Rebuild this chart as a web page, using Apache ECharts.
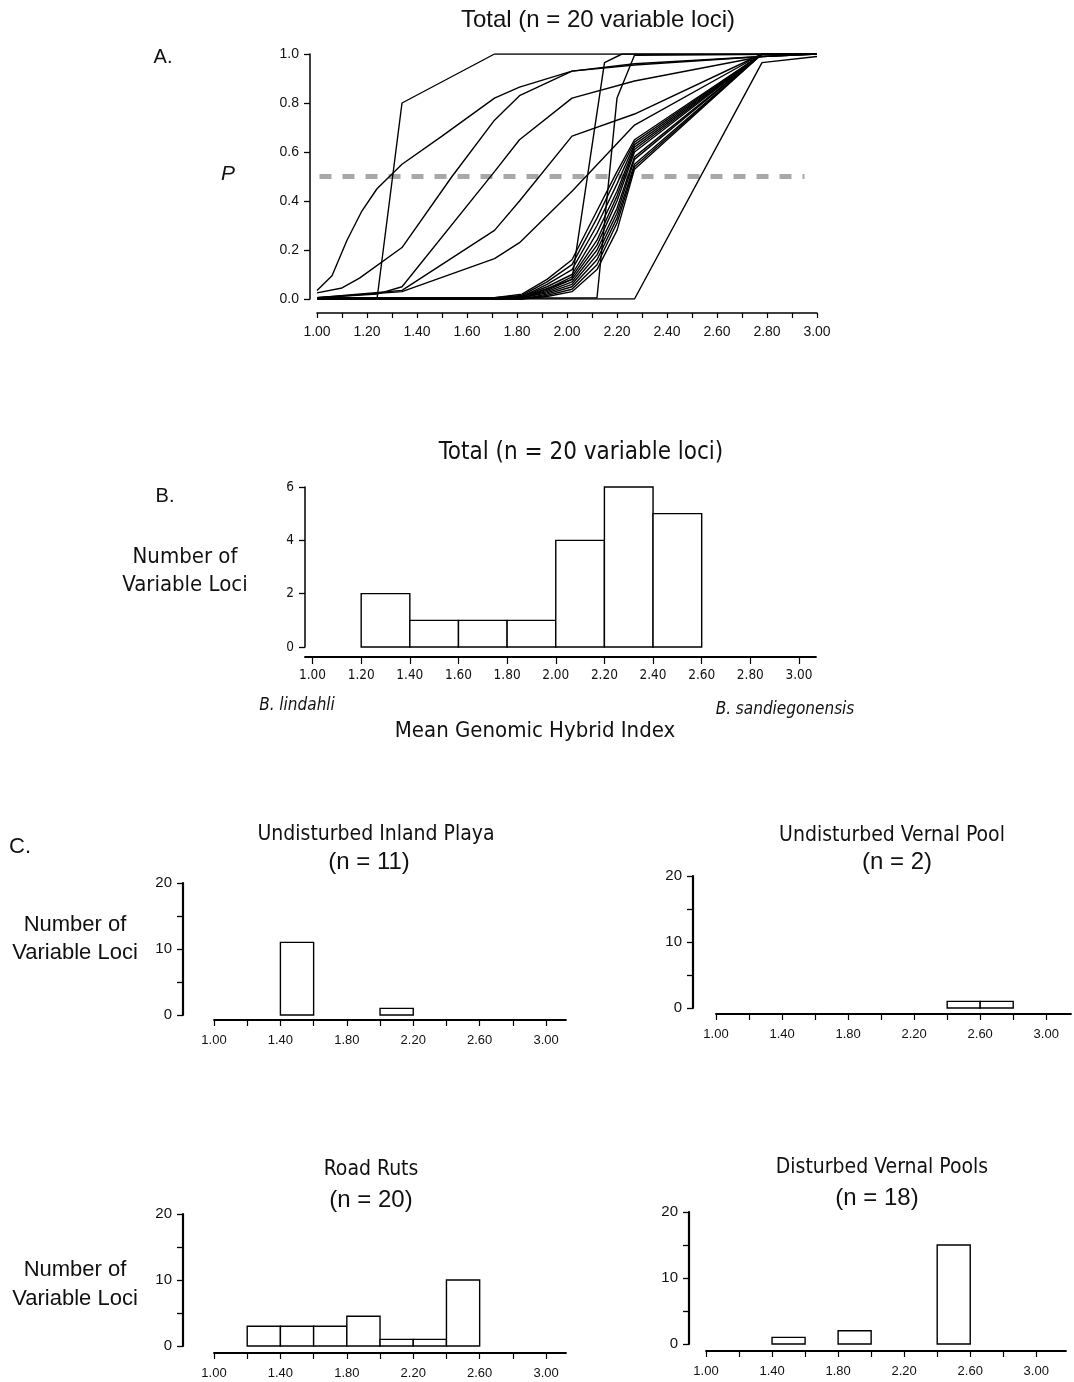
<!DOCTYPE html>
<html>
<head>
<meta charset="utf-8">
<title>Genomic clines and hybrid index histograms</title>
<script src="https://cdn.jsdelivr.net/npm/echarts@6/dist/echarts.min.js"></script>
<style>
  html, body { margin: 0; padding: 0; background: #fff; }
  #chart { width: 1074px; height: 1382px; }
</style>
</head>
<body>
<div id="chart"></div>
<script>
// ---- A. cline curves, points are [mean hybrid index, P] ----
const clineEarly = [[1.00, 0.035], [1.06, 0.095], [1.12, 0.24], [1.18, 0.36], [1.24, 0.45], [1.34, 0.55],
  [1.50, 0.665], [1.71, 0.82], [1.81, 0.865], [2.02, 0.93], [2.27, 0.96], [2.78, 0.99], [3.00, 1.00]];
const clineStep = [[1.00, 0.0], [1.24, 0.0], [1.34, 0.80], [1.71, 1.00], [3.00, 1.00]];
const clineMid1 = [[1.00, 0.025], [1.10, 0.045], [1.17, 0.085], [1.34, 0.21], [1.54, 0.50], [1.71, 0.73],
  [1.81, 0.83], [2.02, 0.93], [2.27, 0.955], [2.78, 0.99], [3.00, 1.00]];
const clineMid2 = [[1.00, 0.005], [1.24, 0.02], [1.34, 0.05], [1.71, 0.52], [1.81, 0.65], [2.02, 0.82],
  [2.27, 0.89], [2.78, 0.99], [3.00, 1.00]];
const clineMid3 = [[1.00, 0.005], [1.34, 0.035], [1.71, 0.28], [1.81, 0.40], [2.02, 0.665], [2.27, 0.755],
  [2.78, 1.00], [3.00, 1.00]];
const clineMid4 = [[1.00, 0.005], [1.34, 0.03], [1.71, 0.165], [1.81, 0.23], [2.02, 0.44], [2.27, 0.71],
  [2.78, 1.00], [3.00, 1.00]];
const clineSteep1 = [[1.00, 0.0], [1.82, 0.005], [2.02, 0.08], [2.15, 0.965], [2.22, 1.00], [3.00, 1.00]];
const clineSteep2 = [[1.00, 0.0], [2.12, 0.005], [2.20, 0.82], [2.27, 0.995], [3.00, 1.00]];
const clineLate = [[1.00, 0.0], [2.27, 0.0], [2.78, 0.965], [3.00, 0.99]];

// the tight bundle of late clines share the same x positions
const bundleX = [1.00, 1.71, 1.82, 1.92, 2.02, 2.12, 2.20, 2.27, 2.78, 3.00];
const bundleP = [
  [0.005, 0.005, 0.02, 0.08, 0.16, 0.36, 0.52, 0.65, 1.00, 1.00],
  [0.005, 0.005, 0.015, 0.07, 0.14, 0.33, 0.50, 0.64, 1.00, 1.00],
  [0.0, 0.0, 0.01, 0.06, 0.12, 0.30, 0.47, 0.63, 1.00, 1.00],
  [0.0, 0.0, 0.01, 0.05, 0.10, 0.27, 0.44, 0.62, 1.00, 1.00],
  [0.0, 0.0, 0.01, 0.04, 0.09, 0.24, 0.42, 0.61, 1.00, 1.00],
  [0.0, 0.0, 0.005, 0.035, 0.08, 0.22, 0.40, 0.60, 1.00, 1.00],
  [0.0, 0.0, 0.005, 0.03, 0.07, 0.20, 0.37, 0.58, 1.00, 1.00],
  [0.0, 0.0, 0.005, 0.025, 0.06, 0.18, 0.35, 0.57, 1.00, 1.00],
  [0.0, 0.0, 0.0, 0.02, 0.05, 0.16, 0.33, 0.55, 1.00, 1.00],
  [0.0, 0.0, 0.0, 0.015, 0.04, 0.14, 0.31, 0.54, 1.00, 1.00],
  [0.0, 0.0, 0.0, 0.01, 0.03, 0.12, 0.28, 0.53, 1.00, 1.00]
];
const halfLine = [[1.01, 0.5], [2.95, 0.5]];   // P = 0.5 reference

// ---- B / C. histograms (bin start, count), bins are 0.2 wide ----
const binWidth = 0.2;
const totalBins = [1.2, 1.4, 1.6, 1.8, 2.0, 2.2, 2.4];
const totalCounts = [2, 1, 1, 1, 4, 6, 5];
const playaBins = [1.4, 2.0];
const playaCounts = [11, 1];
const vernalBins = [2.4, 2.6];
const vernalCounts = [1, 1];
const rutsBins = [1.2, 1.4, 1.6, 1.8, 2.0, 2.2, 2.4];
const rutsCounts = [3, 3, 3, 4.5, 1, 1, 10];
const disturbedBins = [1.4, 1.8, 2.4];
const disturbedCounts = [1, 2, 15];

// ---- tick values ----
const ticksA = [1.0, 1.1, 1.2, 1.3, 1.4, 1.5, 1.6, 1.7, 1.8, 1.9, 2.0, 2.1, 2.2, 2.3, 2.4, 2.5, 2.6, 2.7, 2.8, 2.9, 3.0];
const labelsA = [1.0, 1.2, 1.4, 1.6, 1.8, 2.0, 2.2, 2.4, 2.6, 2.8, 3.0];
const pTicks = [0, 0.2, 0.4, 0.6, 0.8, 1.0];
const ticksB = [1.0, 1.2, 1.4, 1.6, 1.8, 2.0, 2.2, 2.4, 2.6, 2.8, 3.0];
const countTicksB = [0, 2, 4, 6];
const labelsC = [1.0, 1.4, 1.8, 2.2, 2.6, 3.0];
const countTicksC = [0, 5, 10, 15, 20];
const countLabelsC = [0, 10, 20];

const sans = "'Liberation Sans', Arial, sans-serif";
const narrow = "'Liberation Sans Narrow', 'DejaVu Sans Condensed', 'Liberation Sans', sans-serif";

const chart = echarts.init(document.getElementById('chart'));

function xAxisCfg(gi, min, max, offset, ticks, labels, family, size, margin, width, tickLen) {
  return {
    gridIndex: gi, type: 'value', min: min, max: max, offset: offset,
    axisLine: { show: true, onZero: false, lineStyle: { color: '#000', width: width } },
    axisTick: { show: true, length: tickLen, customValues: ticks, lineStyle: { color: '#000', width: 1.2 } },
    axisLabel: { show: true, customValues: labels, formatter: v => v.toFixed(2), margin: margin,
      color: '#111', fontFamily: family, fontSize: size },
    splitLine: { show: false }
  };
}
function yAxisCfg(gi, max, offset, ticks, labels, digits, family, size, width) {
  return {
    gridIndex: gi, type: 'value', min: 0, max: max, offset: offset,
    axisLine: { show: true, onZero: false, lineStyle: { color: '#000', width: width } },
    axisTick: { show: true, length: 6, customValues: ticks, lineStyle: { color: '#000', width: 1.3 } },
    axisLabel: { show: true, customValues: labels, formatter: v => v.toFixed(digits), margin: 11,
      color: '#111', fontFamily: family, fontSize: size },
    splitLine: { show: false }
  };
}

function histItem(params, api) {
  const start = api.value(0);
  const count = api.value(1);
  const tl = api.coord([start, count]);
  const br = api.coord([start + binWidth, 0]);
  return {
    type: 'rect',
    shape: { x: tl[0], y: tl[1], width: br[0] - tl[0], height: br[1] - tl[1] },
    style: { fill: '#fff', stroke: '#000', lineWidth: 1.4 }
  };
}
function histSeries(gi, bins, counts) {
  return {
    type: 'custom', xAxisIndex: gi, yAxisIndex: gi, renderItem: histItem, clip: false,
    encode: { x: 0, y: 1 }, data: bins.map((b, i) => [b, counts[i]])
  };
}

const clines = [clineEarly, clineStep, clineMid1, clineMid2, clineMid3, clineMid4,
  clineSteep1, clineSteep2, clineLate].concat(bundleP.map(row => row.map((p, i) => [bundleX[i], p])));

const series = [{
  type: 'line', xAxisIndex: 0, yAxisIndex: 0, data: halfLine, symbol: 'none', z: 1,
  lineStyle: { color: '#a8a8a8', width: 5, type: [12, 11] }
}].concat(clines.map(c => ({
  type: 'line', xAxisIndex: 0, yAxisIndex: 0, data: c, symbol: 'none', z: 2,
  lineStyle: { color: '#000', width: 1.4 }
}))).concat([
  histSeries(1, totalBins, totalCounts),
  histSeries(2, playaBins, playaCounts),
  histSeries(3, vernalBins, vernalCounts),
  histSeries(4, rutsBins, rutsCounts),
  histSeries(5, disturbedBins, disturbedCounts)
]);

function label(text, x, y, font) {
  return { type: 'text', x: x, y: y, style: { text: text, font: font, fill: '#111',
    textAlign: 'center', textVerticalAlign: 'middle' } };
}

const texts = [
  label('Total (n = 20 variable loci)', 598, 20, '24px ' + sans),
  label('A.', 163, 57, '20px ' + sans),
  label('P', 228, 174, 'italic 21px ' + sans),
  label('Total (n = 20 variable loci)', 581, 453, '24px ' + narrow),
  label('B.', 165, 496, '20px ' + sans),
  label('Number of', 185, 557, '22px ' + narrow),
  label('Variable Loci', 185, 585, '22px ' + narrow),
  label('B. lindahli', 297, 706, 'italic 17px ' + narrow),
  label('B. sandiegonensis', 785, 710, 'italic 17px ' + narrow),
  label('Mean Genomic Hybrid Index', 535, 731, '22px ' + narrow),
  label('C.', 20, 847, '22px ' + sans),
  label('Undisturbed Inland Playa', 376, 835, '21px ' + narrow),
  label('(n = 11)', 369, 862, '24px ' + sans),
  label('Number of', 75, 925, '22px ' + sans),
  label('Variable Loci', 75, 953, '22px ' + sans),
  label('Undisturbed Vernal Pool', 892, 836, '21px ' + narrow),
  label('(n = 2)', 897, 862, '24px ' + sans),
  label('Road Ruts', 371, 1170, '21px ' + narrow),
  label('(n = 20)', 371, 1200, '24px ' + sans),
  label('Number of', 75, 1270, '22px ' + sans),
  label('Variable Loci', 75, 1299, '22px ' + sans),
  label('Disturbed Vernal Pools', 882, 1168, '21px ' + narrow),
  label('(n = 18)', 877, 1198, '24px ' + sans)
];

const option = {
  backgroundColor: '#fff',
  animation: false,
  grid: [
    { left: 317, top: 54, width: 500, height: 245, outerBoundsMode: 'none' },   // A
    { left: 305, top: 487, width: 511, height: 160, outerBoundsMode: 'none' },  // B
    { left: 214, top: 883, width: 352, height: 132, outerBoundsMode: 'none' },  // playa
    { left: 716, top: 876, width: 355, height: 132, outerBoundsMode: 'none' },  // vernal
    { left: 214, top: 1214, width: 352, height: 132, outerBoundsMode: 'none' }, // ruts
    { left: 706, top: 1212, width: 360, height: 132, outerBoundsMode: 'none' }  // disturbed
  ],
  xAxis: [
    xAxisCfg(0, 1.0, 3.0, 14, ticksA, labelsA, sans, 14, 12, 1.6, 5),
    xAxisCfg(1, 0.969, 3.07, 10, ticksB, ticksB, narrow, 13.5, 11, 1.8, 7),
    xAxisCfg(2, 1.0, 3.12, 5, ticksB, labelsC, sans, 13, 14, 1.8, 6),
    xAxisCfg(3, 1.0, 3.15, 6, ticksB, labelsC, sans, 13, 14, 1.8, 6),
    xAxisCfg(4, 1.0, 3.12, 7, ticksB, labelsC, sans, 13, 14, 1.8, 6),
    xAxisCfg(5, 1.0, 3.18, 7, ticksB, labelsC, sans, 13, 14, 1.8, 6)
  ],
  yAxis: [
    yAxisCfg(0, 1.0, 7, pTicks, pTicks, 1, sans, 14, 1.5),
    yAxisCfg(1, 6, 0, countTicksB, countTicksB, 0, narrow, 13.5, 1.5),
    yAxisCfg(2, 20, 31, countTicksC, countLabelsC, 0, sans, 15, 2.2),
    yAxisCfg(3, 20, 23, countTicksC, countLabelsC, 0, sans, 15, 2.2),
    yAxisCfg(4, 20, 31, countTicksC, countLabelsC, 0, sans, 15, 2.2),
    yAxisCfg(5, 20, 17, countTicksC, countLabelsC, 0, sans, 15, 2.2)
  ],
  graphic: texts,
  series: series
};

chart.setOption(option);
window.addEventListener('resize', () => chart.resize());
</script>
</body>
</html>
